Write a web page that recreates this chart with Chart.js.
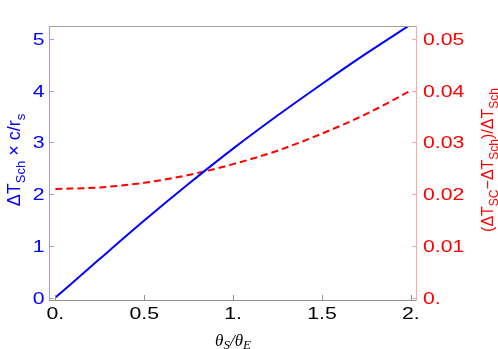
<!DOCTYPE html>
<html>
<head>
<meta charset="utf-8">
<script src="https://cdn.jsdelivr.net/npm/chart.js@4.4.1/dist/chart.umd.min.js"></script>
<style>
html,body{margin:0;padding:0;background:#fff;}
#wrap{width:498px;height:349px;position:relative;}
</style>
</head>
<body>
<div id="wrap"><canvas id="c" width="498" height="349"></canvas></div>
<script>
// ---- data ----
const thetaRatio = [0, 0.25, 0.5, 0.75, 1.0, 1.25, 1.5, 1.75, 2.0];
const schDelay   = [0, 0.75, 1.49, 2.20, 2.88, 3.52, 4.13, 4.72, 5.28];
const relDiff    = [0.0210, 0.0213, 0.0222, 0.0237, 0.0258, 0.0284, 0.0317, 0.0355, 0.0400];

const xTickValues = [0, 0.5, 1, 1.5, 2];
const xTickLabels = ['0.', '0.5', '1.', '1.5', '2.'];
const yTickValues = [0, 1, 2, 3, 4, 5];
const yTickLabels = ['0', '1', '2', '3', '4', '5'];
const y2TickValues = [0, 0.01, 0.02, 0.03, 0.04, 0.05];
const y2TickLabels = ['0.', '0.01', '0.02', '0.03', '0.04', '0.05'];

const BLUE = '#0000ff';
const RED = '#ff0000';
const TICKFONT = '17px "Liberation Sans", Arial, sans-serif';
const SX = 1.25;

function stretchedText(ctx, str, x, y, align, baseline) {
  ctx.save();
  ctx.translate(x, y);
  ctx.scale(SX, 1);
  ctx.textAlign = align;
  ctx.textBaseline = baseline;
  ctx.fillText(str, 0, 0);
  ctx.restore();
}

function richText(ctx, segs, cx, cy, rot, mainFont, subFont, subDy) {
  ctx.save();
  ctx.translate(cx, cy);
  ctx.rotate(rot);
  let total = 0;
  segs.forEach(s => { ctx.font = s.sub ? subFont : mainFont; s.w = ctx.measureText(s.t).width; total += s.w; });
  let x = -total / 2;
  ctx.textAlign = 'left';
  ctx.textBaseline = 'alphabetic';
  segs.forEach(s => {
    ctx.font = s.sub ? subFont : mainFont;
    ctx.fillText(s.t, x, s.sub ? subDy : 0);
    x += s.w;
  });
  ctx.restore();
}

const framePlugin = {
  id: 'frame',
  afterDraw(chart) {
    const ctx = chart.ctx;
    const xs = chart.scales.x, ys = chart.scales.y, y2 = chart.scales.y2;
    const a = chart.chartArea;
    ctx.save();
    ctx.lineWidth = 1;
    ctx.strokeStyle = '#a0a0a0';
    ctx.beginPath(); ctx.moveTo(a.left, a.top + 0.5); ctx.lineTo(a.right, a.top + 0.5); ctx.stroke();
    ctx.strokeStyle = '#909090';
    ctx.beginPath(); ctx.moveTo(a.left, a.bottom + 0.5); ctx.lineTo(a.right, a.bottom + 0.5); ctx.stroke();
    xTickValues.forEach(v => {
      const px = Math.round(xs.getPixelForValue(v)) + 0.5;
      ctx.beginPath(); ctx.moveTo(px, a.bottom); ctx.lineTo(px, a.bottom - 5); ctx.stroke();
    });
    ctx.strokeStyle = '#9a9aff';
    ctx.beginPath(); ctx.moveTo(a.left + 0.5, a.top); ctx.lineTo(a.left + 0.5, a.bottom); ctx.stroke();
    yTickValues.forEach(v => {
      const py = Math.round(ys.getPixelForValue(v)) + 0.5;
      ctx.beginPath(); ctx.moveTo(a.left, py); ctx.lineTo(a.left + 5, py); ctx.stroke();
    });
    ctx.strokeStyle = '#ffa8a8';
    ctx.beginPath(); ctx.moveTo(a.right - 0.5, a.top); ctx.lineTo(a.right - 0.5, a.bottom + 1); ctx.stroke();
    y2TickValues.forEach(v => {
      const py = Math.round(y2.getPixelForValue(v)) + 0.5;
      ctx.beginPath(); ctx.moveTo(a.right, py); ctx.lineTo(a.right - 5, py); ctx.stroke();
    });

    ctx.font = TICKFONT;
    ctx.fillStyle = '#000';
    xTickValues.forEach((v, i) => {
      stretchedText(ctx, xTickLabels[i], xs.getPixelForValue(v), a.bottom + 18.5, 'center', 'alphabetic');
    });
    ctx.fillStyle = BLUE;
    yTickValues.forEach((v, i) => {
      stretchedText(ctx, yTickLabels[i], a.left - 4.5, ys.getPixelForValue(v) + 6, 'right', 'alphabetic');
    });
    ctx.fillStyle = RED;
    y2TickValues.forEach((v, i) => {
      stretchedText(ctx, y2TickLabels[i], a.right + 6, y2.getPixelForValue(v) + 6, 'left', 'alphabetic');
    });

    const cy = (a.top + a.bottom) / 2 - 3;
    ctx.fillStyle = BLUE;
    richText(ctx, [
      {t: 'ΔT'}, {t: 'Sch', sub: true}, {t: ' × c/r'}, {t: 's', sub: true}
    ], 20, cy, -Math.PI / 2, '18px "Liberation Sans", Arial, sans-serif', '13px "Liberation Sans", Arial, sans-serif', 4.5);
    ctx.fillStyle = RED;
    richText(ctx, [
      {t: '(ΔT'}, {t: 'SC', sub: true}, {t: '−ΔT'}, {t: 'Sch', sub: true}, {t: ')/ΔT'}, {t: 'Sch', sub: true}
    ], 493, cy, -Math.PI / 2, '16px "Liberation Sans", Arial, sans-serif', '12px "Liberation Sans", Arial, sans-serif', 4.5);
    ctx.fillStyle = '#000';
    richText(ctx, [
      {t: 'θ'}, {t: 'S', sub: true}, {t: '/θ'}, {t: 'E', sub: true}
    ], (a.left + a.right) / 2, 345.5, 0, 'italic 17px "Liberation Serif", "Times New Roman", serif', 'italic 13px "Liberation Serif", "Times New Roman", serif', 3.5);
    ctx.restore();
  }
};

new Chart(document.getElementById('c'), {
  type: 'line',
  data: {
    datasets: [
      {
        data: thetaRatio.map((x, i) => ({x: x, y: schDelay[i]})),
        yAxisID: 'y',
        borderColor: BLUE,
        borderWidth: 2,
        pointRadius: 0,
        fill: false,
        cubicInterpolationMode: 'monotone'
      },
      {
        data: thetaRatio.map((x, i) => ({x: x, y: relDiff[i]})),
        yAxisID: 'y2',
        borderColor: RED,
        borderWidth: 2,
        borderDash: [7, 4],
        pointRadius: 0,
        fill: false,
        cubicInterpolationMode: 'monotone'
      }
    ]
  },
  options: {
    responsive: false,
    animation: false,
    events: [],
    layout: {padding: {left: 49, right: 81, top: 26, bottom: 49}},
    plugins: {legend: {display: false}, tooltip: {enabled: false}},
    scales: {
      x: {type: 'linear', display: false, min: -0.036, max: 2.035},
      y: {type: 'linear', display: false, min: -0.046, max: 5.25},
      y2: {type: 'linear', display: false, position: 'right', min: -0.00046, max: 0.0525}
    }
  },
  plugins: [framePlugin]
});
</script>
</body>
</html>
